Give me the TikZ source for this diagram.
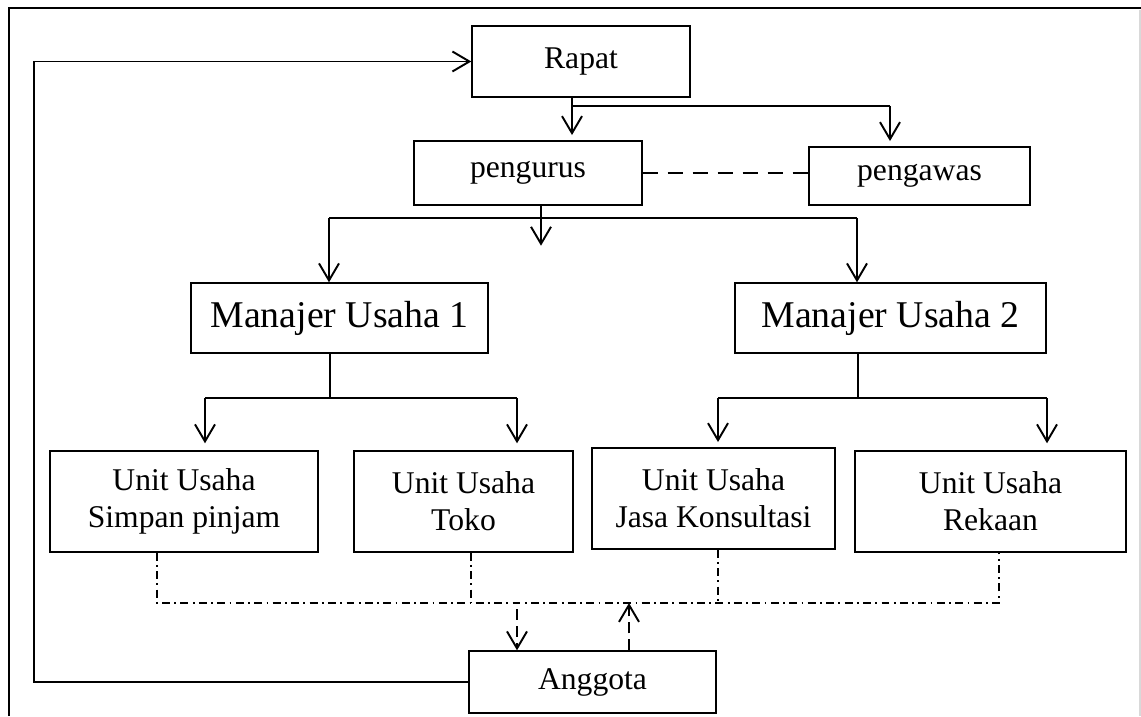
\documentclass[tikz,border=0pt]{standalone}
\usepackage{fontspec}
\setmainfont{Liberation Serif}
\usepackage{tikz}
\usetikzlibrary{arrows.meta, positioning}

\begin{document}
\begin{tikzpicture}[
    x=0.02cm, y=-0.02cm,
    box/.style={rectangle, draw, line width=0.8pt, align=center, inner sep=2pt, font=\fontsize{18}{21}\selectfont},
    arrow/.style={line width=1.1pt, -{Straight Barb[length=3.4mm, width=4mm, line width=1.1pt]}},
    link/.style={line width=1.1pt},
    watchline/.style={line width=1.1pt, dash pattern=on 0.3cm off 0.2cm},
    memberline/.style={line width=1pt, dash pattern=on 4.5pt off 2.5pt on 1pt off 2.5pt},
    backline/.style={line width=1.1pt, dash pattern=on 0.22cm off 0.12cm, -{Straight Barb[length=3.4mm, width=4mm, line width=1.1pt]}}
]
    \useasboundingbox (0,0) rectangle (1141,716);
    % page frame
    \draw[line width=1.3pt] (9,716) -- (9,8) -- (1141,8);
    \draw[gray!30, line width=0.6pt] (1140,10) -- (1140,716);

    % Nodes
    \node (rapat) [box, minimum width=4.36cm, minimum height=1.42cm] at (581,61.5) {Rapat};
    \node (pengurus) [box, minimum width=4.56cm, minimum height=1.28cm] at (528,173) {pengurus};
    \node (pengawas) [box, minimum width=4.42cm, minimum height=1.16cm] at (919.5,176) {pengawas};
    \node (manajer1) [box, font=\fontsize{21.5}{24}\selectfont, minimum width=5.94cm, minimum height=1.4cm] at (339.5,318) {Manajer Usaha 1};
    \node (manajer2) [box, font=\fontsize{21.5}{24}\selectfont, minimum width=6.22cm, minimum height=1.4cm] at (890.5,318) {Manajer Usaha 2};
    \node (simpan) [box, minimum width=5.36cm, minimum height=2.02cm] at (184,501.5) {Unit Usaha\\Simpan pinjam};
    \node (toko) [box, minimum width=4.38cm, minimum height=2.02cm] at (463.5,501.5) {Unit Usaha\\Toko};
    \node (jasa) [box, minimum width=4.86cm, minimum height=2.02cm] at (713.5,498.5) {Unit Usaha\\Jasa Konsultasi};
    \node (rekaan) [box, minimum width=5.42cm, minimum height=2.02cm] at (990.5,501.5) {Unit Usaha\\Rekaan};
    \node (anggota) [box, minimum width=4.94cm, minimum height=1.24cm] at (592.5,682) {Anggota};

    % Branch points
    \coordinate (rp) at (572,98);
    \coordinate (rb) at (572,106);
    \coordinate (pw) at (890,106);
    \coordinate (pg) at (541,218);
    \coordinate (ma) at (329,218);
    \coordinate (mb) at (857,218);
    \coordinate (u1) at (330,398);
    \coordinate (sa) at (205,398);
    \coordinate (ta) at (517,398);
    \coordinate (u2) at (858,398);
    \coordinate (ja) at (718,398);
    \coordinate (ra) at (1047,398);
    \coordinate (dl) at (157,603);
    \coordinate (dt) at (471,603);
    \coordinate (dj) at (718,603);
    \coordinate (dr) at (999,603);
    \coordinate (ad) at (517,609);
    \coordinate (au) at (629,603);
    \coordinate (loop) at (34,61.5);

    % Arrows
    \draw [arrow] (anggota.west) -| (loop) -- (rapat.west);
    \draw [arrow, shorten >=3pt] (rp) -- (rp |- pengurus.north);
    \draw [link] (rb) -- (pw);
    \draw [arrow, shorten >=3pt] (pw) -- (pw |- pengawas.north);
    \draw [watchline] (pengurus.east) -- (pengurus.east -| pengawas.west);

    \draw [arrow] (pengurus.south -| pg) -- ++(0,40);
    \draw [link] (ma) -- (mb);
    \draw [arrow] (ma) -- (ma |- manajer1.north);
    \draw [arrow] (mb) -- (mb |- manajer2.north);

    \draw [link] (manajer1.south -| u1) -- (u1);
    \draw [link] (sa) -- (ta);
    \draw [arrow, shorten >=4pt] (sa) -- (sa |- simpan.north);
    \draw [arrow, shorten >=4pt] (ta) -- (ta |- toko.north);

    \draw [link] (manajer2.south -| u2) -- (u2);
    \draw [link] (ja) -- (ra);
    \draw [arrow, shorten >=3pt] (ja) -- (ja |- jasa.north);
    \draw [arrow, shorten >=4pt] (ra) -- (ra |- rekaan.north);

    \draw [memberline] (simpan.south -| dl) -- (dl) -- (dr) -- (rekaan.south -| dr);
    \draw [memberline] (toko.south -| dt) -- (dt);
    \draw [memberline] (jasa.south -| dj) -- (dj);

    \draw [backline] (ad) -- (ad |- anggota.north);
    \draw [backline] (anggota.north -| au) -- (au);

\end{tikzpicture}
\end{document}
